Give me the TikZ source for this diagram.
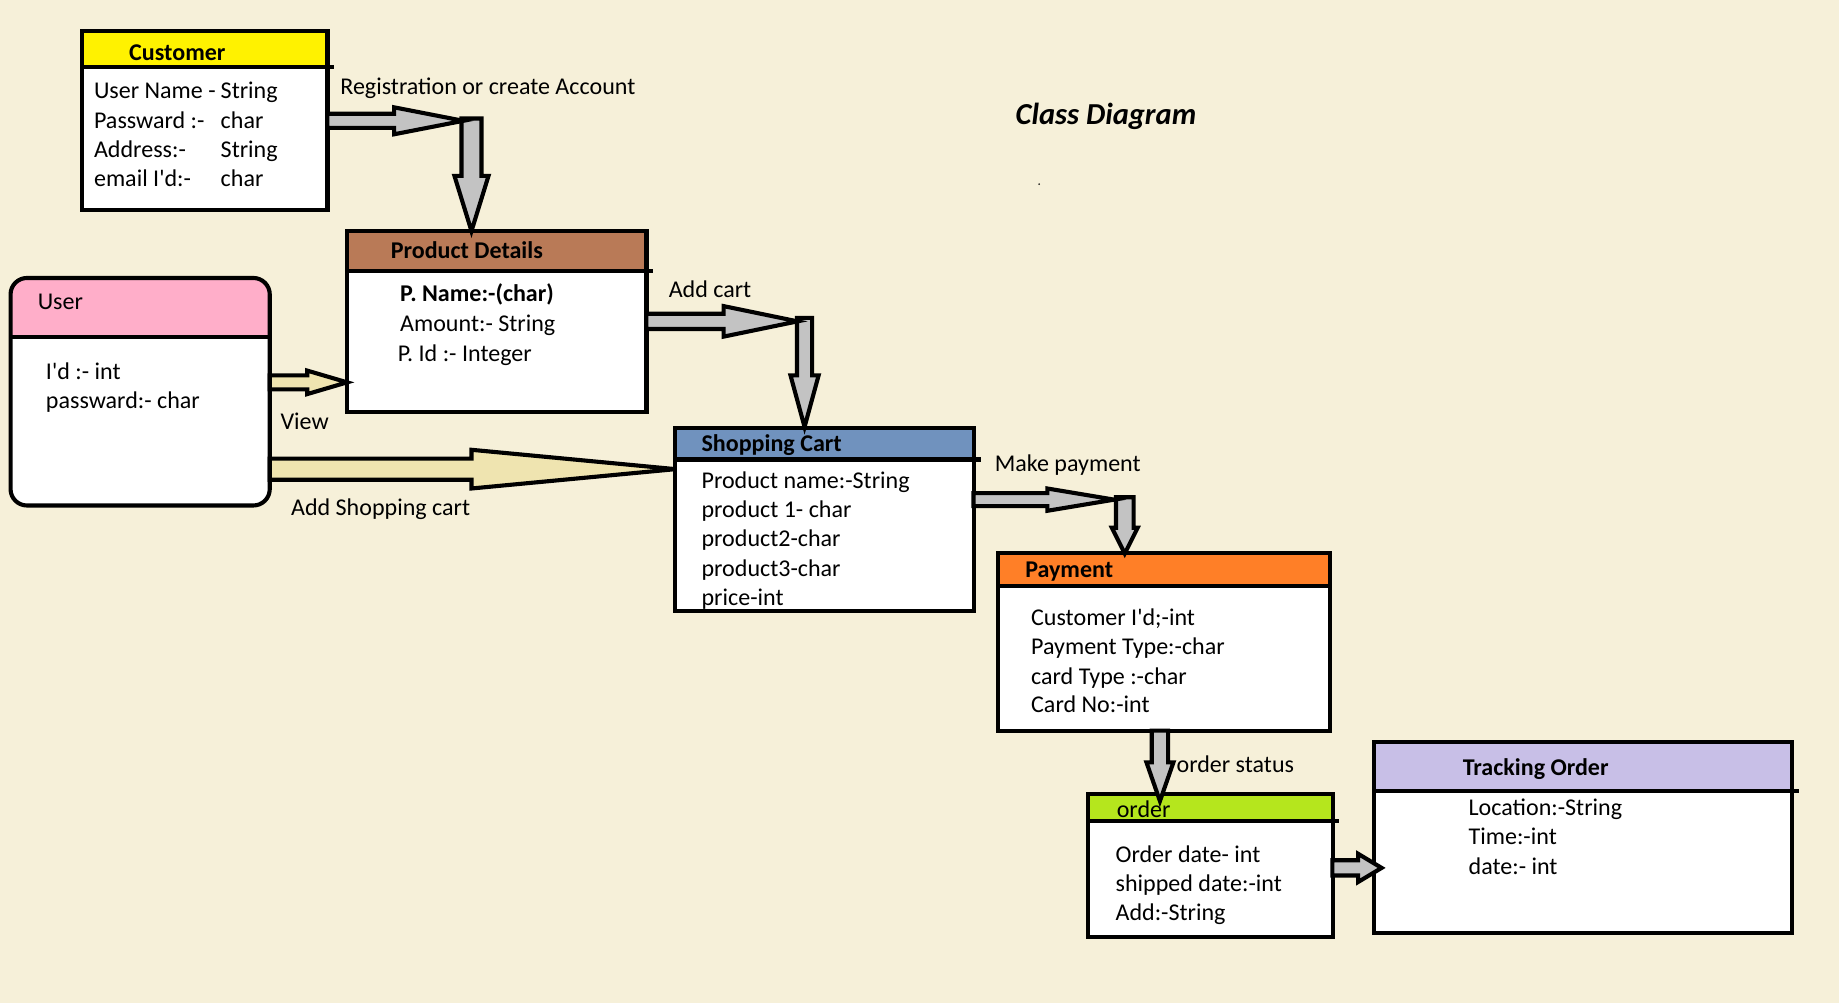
\documentclass[tikz,border=0pt]{standalone}
\usepackage{fontspec}
\setmainfont{Carlito}
\usetikzlibrary{calc}
\definecolor{bgc}{HTML}{F6F0D9}
\definecolor{hyellow}{HTML}{FFF200}
\definecolor{hbrown}{HTML}{B97A57}
\definecolor{hpink}{HTML}{FFAEC9}
\definecolor{hblue}{HTML}{7092BE}
\definecolor{horange}{HTML}{FF7F27}
\definecolor{hgreen}{HTML}{B5E61D}
\definecolor{hlav}{HTML}{C8BFE7}
\definecolor{agray}{HTML}{C3C3C3}
\definecolor{acream}{HTML}{EFE4B0}
\newcommand\qs{\textquotesingle}
% block arrow: style, from, to, shaft half width, head half width, head length
\newcommand\blockarr[6]{%
  \coordinate (bH) at ($(#3)!#6!(#2)$);
  \draw[#1] ($(#2)!#4!90:(#3)$) -- ($(bH)!#4!90:(#3)$) -- ($(bH)!#5!90:(#3)$) -- (#3)
    -- ($(bH)!#5!-90:(#3)$) -- ($(bH)!#4!-90:(#3)$) -- ($(#2)!#4!-90:(#3)$) -- cycle;
}
\begin{document}
\begin{tikzpicture}[x=1pt,y=-1pt,
  box/.style={draw=black, line width=3.5pt, fill=white, rectangle, inner sep=0pt, anchor=north west},
  hdr/.style={draw=black, line width=3.5pt, rectangle, inner sep=0pt, anchor=north west},
  txt/.style={inner sep=0pt, anchor=west, font=\fontsize{20.5}{25}\selectfont, text height=17pt, text depth=2.5pt},
  ttl/.style={txt, font=\fontsize{20.5}{25}\selectfont\bfseries},
  garrow/.style={draw=black, line width=3.5pt, fill=agray, line join=miter},
  carrow/.style={draw=black, line width=3.5pt, fill=acream, line join=miter},
  ext/.style={line width=3.5pt}
]
\fill[bgc] (0,0) rectangle (1568,855);
\useasboundingbox (0,0) rectangle (1568,855);

% Title
\node[inner sep=0pt, font=\fontsize{26}{30}\selectfont\bfseries\itshape] (title) at (943,99.5) {Class Diagram};
\fill (886,157) circle (0.8pt);

% Customer
\node[box, minimum width=209.5pt, minimum height=152.5pt] (cust) at (68,25) {};
\node[hdr, fill=hyellow, minimum width=209.5pt, minimum height=30pt] (custH) at (68,25) {};
\draw[ext] (custH.south east) ++(-2,-1.75) -- ++(6,0);
\node[ttl] (custT) at (110,44) {Customer};
\node[txt] (c1) at (80,77) {User Name -};
\node[txt] (c2) at (80,102) {Passward :-};
\node[txt] (c3) at (80,127) {Address:-};
\node[txt] (c4) at (80,152) {email I\qs d:-};
\node[txt] (c1b) at (188,77) {String};
\node[txt] (c2b) at (188,102) {char};
\node[txt] (c3b) at (188,127) {String};
\node[txt] (c4b) at (188,152) {char};

% Product Details
\node[box, minimum width=255.5pt, minimum height=154.5pt] (pd) at (294,195) {};
\node[hdr, fill=hbrown, minimum width=255.5pt, minimum height=34pt] (pdH) at (294,195) {};
\draw[ext] (pdH.south east) ++(-2,-1.75) -- ++(6,0);
\node[ttl] (pdT) at (333,213) {Product Details};
\node[ttl] (p1) at (341,250) {P. Name:-(char)};
\node[txt] (p2) at (341,275) {Amount:- String};
\node[txt] (p3) at (339,301) {P. Id :- Integer};

% User
\node[draw=none, fill=white, rectangle, rounded corners=14pt, inner sep=0pt, outer sep=0pt, anchor=north west,
      minimum width=221pt, minimum height=194pt] (user) at (9,237) {};
\fill[hpink] (9,287) [rounded corners=14pt] -- (9,237) -- (230,237) [sharp corners] -- (230,287) -- cycle;
\draw[ext] (9,287) -- (232,287);
\draw[line width=3.5pt, rounded corners=14pt] (user.north west) rectangle (user.south east);
\node[txt] (userT) at (32,257) {User};
\node[txt] (u1) at (39,316) {I\qs d :- int};
\node[txt] (u2) at (39,341) {passward:- char};

% Shopping Cart
\node[box, minimum width=254.5pt, minimum height=156.5pt] (sc) at (574,363) {};
\node[hdr, fill=hblue, minimum width=254.5pt, minimum height=27pt] (scH) at (574,363) {};
\draw[ext] (scH.south east) ++(-2,-1.75) -- ++(6,0);
\node[ttl] (scT) at (598,378) {Shopping Cart};
\node[txt] (s1) at (598,409) {Product name:-String};
\node[txt] (s2) at (598,434) {product 1- char};
\node[txt] (s3) at (598,459) {product2-char};
\node[txt] (s4) at (598,484) {product3-char};
\node[txt] (s5) at (598,509) {price-int};

% Payment
\node[box, minimum width=283.5pt, minimum height=151.5pt] (pay) at (849,470) {};
\node[hdr, fill=horange, minimum width=283.5pt, minimum height=28pt] (payH) at (849,470) {};
\node[ttl] (payT) at (874,485) {Payment};
\node[txt] (y1) at (879,526) {Customer I\qs d;-int};
\node[txt] (y2) at (879,551) {Payment Type:-char};
\node[txt] (y3) at (879,576) {card Type :-char};
\node[txt] (y4) at (879,600) {Card No:-int};

% order
\node[box, minimum width=208.5pt, minimum height=122.5pt] (ord) at (926,675) {};
\node[hdr, fill=hgreen, minimum width=208.5pt, minimum height=23pt] (ordH) at (926,675) {};
\draw[ext] (ordH.south east) ++(-2,-1.75) -- ++(6,0);
\node[txt] (ordT) at (952,690) {order};
\node[txt] (o1) at (951,728) {Order date- int};
\node[txt] (o2) at (951,753) {shipped date:-int};
\node[txt] (o3) at (951,778) {Add:-String};

% Tracking Order
\node[box, minimum width=356.5pt, minimum height=162.5pt] (trk) at (1170,631) {};
\node[hdr, fill=hlav, minimum width=356.5pt, minimum height=42pt] (trkH) at (1170,631) {};
\draw[ext] (trkH.south east) ++(-2,-1.75) -- ++(6,0);
\node[ttl] (trkT) at (1247,654) {Tracking Order};
\node[txt] (t1) at (1252,688) {Location:-String};
\node[txt] (t2) at (1252,713) {Time:-int};
\node[txt] (t3) at (1252,738) {date:- int};

% Connector labels
\node[txt] (l1) at (290,73) {Registration or create Account};
\node[txt] (l2) at (570,246) {Add cart};
\node[txt] (l3) at (239,359) {View};
\node[txt] (l4) at (248,432) {Add Shopping cart};
\node[txt] (l5) at (848,395) {Make payment};
\node[txt] (l6) at (1003,651) {order status};

% Elbow coordinates
\coordinate (k1) at (402,103);
\coordinate (k1h) at ($(k1)+(-7,0)$);
\coordinate (k1v) at ($(k1)+(0,-2)$);
\coordinate (k2) at (686,274);
\coordinate (k2h) at ($(k2)+(-6,0)$);
\coordinate (k2v) at ($(k2)+(0,-3)$);
\coordinate (k3) at (959,426);
\coordinate (k3h) at ($(k3)+(-9,0)$);
\coordinate (k3v) at ($(k3)+(0,-2)$);
\coordinate (k4) at (989,650);
\coordinate (k6) at (262,326);
\coordinate (k7) at (400,400);

% Connectors
\coordinate (a1s) at ($(cust.east)+(-2,0)$);
\coordinate (a1v) at ($(k1 |- pd.north)+(0,2)$);
\blockarr{garrow}{k1v}{a1v}{8.5pt}{14.5pt}{47pt}
\blockarr{garrow}{a1s}{k1h}{6pt}{11.5pt}{59pt}

\coordinate (a2s) at ($(pd.east)+(-2,0)$);
\coordinate (a2v) at ($(k2 |- sc.north)+(0,1)$);
\blockarr{garrow}{k2v}{a2v}{6.5pt}{12pt}{44pt}
\blockarr{garrow}{a2s}{k2h}{6.5pt}{13pt}{63pt}

\coordinate (a3s) at ($(sc.east |- k3)+(-2,0)$);
\coordinate (a3v) at ($(k3 |- pay.north)+(0,2)$);
\blockarr{garrow}{k3v}{a3v}{7.5pt}{11pt}{22pt}
\blockarr{garrow}{a3s}{k3h}{5.5pt}{9.5pt}{57pt}

\coordinate (a4s) at ($(k4 |- pay.south)+(0,-2)$);
\coordinate (a4e) at ($(k4 |- ord.north)+(0,8)$);
\blockarr{garrow}{a4s}{a4e}{7pt}{11.5pt}{33pt}

\coordinate (a5s) at ($(ord.east)+(-2,2)$);
\coordinate (a5e) at ($(trk.west |- a5s)+(8,0)$);
\blockarr{garrow}{a5s}{a5e}{6.5pt}{12pt}{20pt}

\coordinate (a6s) at (user.east |- k6);
\coordinate (a6e) at ($(pd.west |- k6)+(2,0)$);
\blockarr{carrow}{a6s}{a6e}{6pt}{10pt}{34pt}

\coordinate (a7s) at (user.east |- k7);
\coordinate (a7e) at ($(sc.west |- k7)+(2,0)$);
\blockarr{carrow}{a7s}{a7e}{9pt}{16.5pt}{174pt}
\end{tikzpicture}
\end{document}
